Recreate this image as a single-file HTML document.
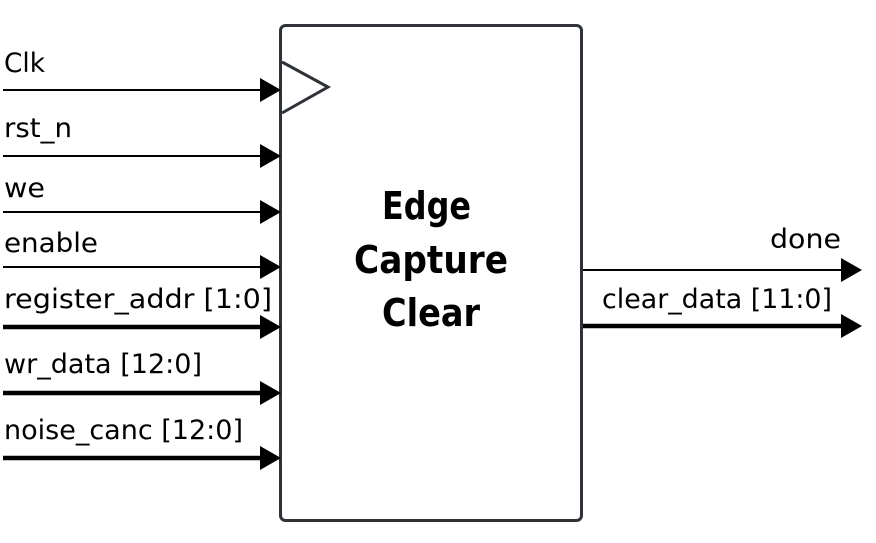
<!DOCTYPE html>
<html><head><meta charset="utf-8"><style>
html,body{margin:0;padding:0;background:#fff;}
svg{display:block;}
text{font-family:"DejaVu Sans","Liberation Sans",sans-serif;font-size:27px;fill:#000;}
.t{font-weight:bold;font-size:38px;}
</style></head><body>
<svg width="876" height="543" viewBox="0 0 876 543" xmlns="http://www.w3.org/2000/svg">
<rect x="280.5" y="25.5" width="301" height="495" rx="5" fill="#fff" stroke="#2f3337" stroke-width="3"/>
<polyline points="282,62 328,87 282,113" fill="none" stroke="#2f3337" stroke-width="3"/>
<g stroke="#000">
<line x1="3" y1="90" x2="265" y2="90" stroke-width="2"/>
<line x1="3" y1="156" x2="265" y2="156" stroke-width="2"/>
<line x1="3" y1="212" x2="265" y2="212" stroke-width="2"/>
<line x1="3" y1="267" x2="265" y2="267" stroke-width="2"/>
<line x1="3" y1="327" x2="265" y2="327" stroke-width="4.5"/>
<line x1="3" y1="393" x2="265" y2="393" stroke-width="4.5"/>
<line x1="3" y1="458" x2="265" y2="458" stroke-width="4.5"/>
<line x1="583" y1="270" x2="846" y2="270" stroke-width="2"/>
<line x1="583" y1="326" x2="846" y2="326" stroke-width="4.5"/>
</g>
<g fill="#000">
<polygon points="260,78 281,90 260,102"/>
<polygon points="260,144 281,156 260,168"/>
<polygon points="260,200 281,212 260,224"/>
<polygon points="260,255 281,267 260,279"/>
<polygon points="260,315 281,327 260,339"/>
<polygon points="260,381 281,393 260,405"/>
<polygon points="260,446 281,458 260,470"/>
<polygon points="841,258 862,270 841,282"/>
<polygon points="841,314 862,326 841,338"/>
</g>
<text x="4" y="72" textLength="41" lengthAdjust="spacingAndGlyphs">Clk</text>
<text x="4" y="137" textLength="68" lengthAdjust="spacingAndGlyphs">rst_n</text>
<text x="4" y="197" textLength="41" lengthAdjust="spacingAndGlyphs">we</text>
<text x="4" y="252" textLength="94" lengthAdjust="spacingAndGlyphs">enable</text>
<text x="4" y="308" textLength="268" lengthAdjust="spacingAndGlyphs">register_addr [1:0]</text>
<text x="4" y="373" textLength="198" lengthAdjust="spacingAndGlyphs">wr_data [12:0]</text>
<text x="4" y="439" textLength="239" lengthAdjust="spacingAndGlyphs">noise_canc [12:0]</text>
<text x="770" y="248" textLength="71" lengthAdjust="spacingAndGlyphs">done</text>
<text x="602" y="308" textLength="230" lengthAdjust="spacingAndGlyphs">clear_data [11:0]</text>
<text class="t" x="382" y="219" textLength="89" lengthAdjust="spacingAndGlyphs">Edge</text>
<text class="t" x="354" y="273" textLength="154" lengthAdjust="spacingAndGlyphs">Capture</text>
<text class="t" x="382" y="326" textLength="98" lengthAdjust="spacingAndGlyphs">Clear</text>
</svg>
</body></html>
